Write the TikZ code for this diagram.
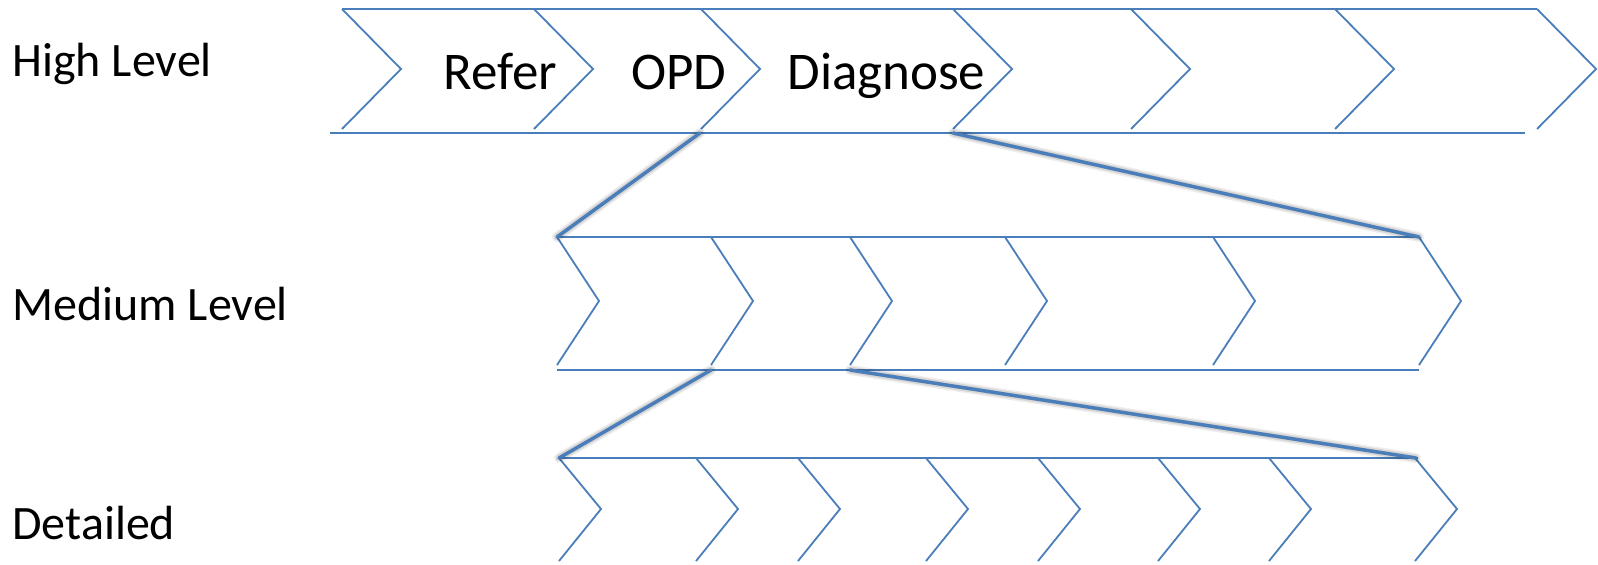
\documentclass[tikz,border=0pt]{standalone}
\usepackage{fontspec}
\setmainfont{Carlito}
\definecolor{lineblue}{RGB}{74,126,187}
\tikzset{
  thinline/.style={draw=lineblue, line width=0.9pt},
  linkline/.style={draw=lineblue, line width=1.7pt, line cap=round},
  linkshade/.style={draw=black, line cap=round, shift={(3,4)}},
  rowlabel/.style={anchor=base west, inner sep=0pt, font=\fontsize{24}{28}\selectfont},
  steplabel/.style={anchor=base west, inner sep=0pt, font=\fontsize{26.5}{31}\selectfont},
}
\begin{document}
\begin{tikzpicture}[x=0.5pt, y=-0.5pt]
\useasboundingbox (0,0) rectangle (1598,564);

% ---- level labels ----
\node[rowlabel] (lblhigh) at (12,76.7) {High Level};
\node[rowlabel] (lblmed)  at (12,320)  {Medium Level};
\node[rowlabel] (lbldet)  at (12,539.3) {Detailed};

% ---- high level row ----
\draw[thinline] (342,9) -- (1537,9);
\draw[thinline] (330,133) -- (1525,133);
\foreach \x in {342,534,701,953,1131,1335,1537}
  \draw[thinline] (\x,9) -- (\x+59,69) -- (\x,129);
\node[steplabel] (refer) at (443,89.5) {Refer};
\node[steplabel] (opd)   at (631,89.5) {OPD};
\node[steplabel] (diag)  at (787,89.5) {Diagnose};

% ---- medium level row ----
\draw[thinline] (557,237) -- (1419,237);
\draw[thinline] (557,370) -- (1419,370);
\foreach \x in {557,711,850,1005,1213,1419}
  \draw[thinline] (\x,237) -- (\x+42,301) -- (\x,365);

% ---- detailed row ----
\draw[thinline] (559,458) -- (1418,458);
\foreach \x in {559,696,798,926,1038,1158,1269,1415}
  \draw[thinline] (\x,458) -- (\x+42,509) -- (\x,561);

% ---- zoom-in connectors between levels ----
\coordinate (opdfoot)  at (700,133);
\coordinate (diagfoot) at (953,133);
\coordinate (medleft)  at (557,237);
\coordinate (medright) at (1419,237);
\coordinate (medsplitA) at (711,370);
\coordinate (medsplitB) at (850,370);
\coordinate (detleft)  at (559,458);
\coordinate (detright) at (1416,458);

\foreach \a/\b in {opdfoot/medleft, diagfoot/medright, medsplitA/detleft, medsplitB/detright}{
  \draw[linkshade, line width=5pt, opacity=0.07] (\a) -- (\b);
  \draw[linkshade, line width=3.4pt, opacity=0.10] (\a) -- (\b);
  \draw[linkshade, line width=1.8pt, opacity=0.12] (\a) -- (\b);
  \draw[linkline] (\a) -- (\b);
}
\end{tikzpicture}
\end{document}
